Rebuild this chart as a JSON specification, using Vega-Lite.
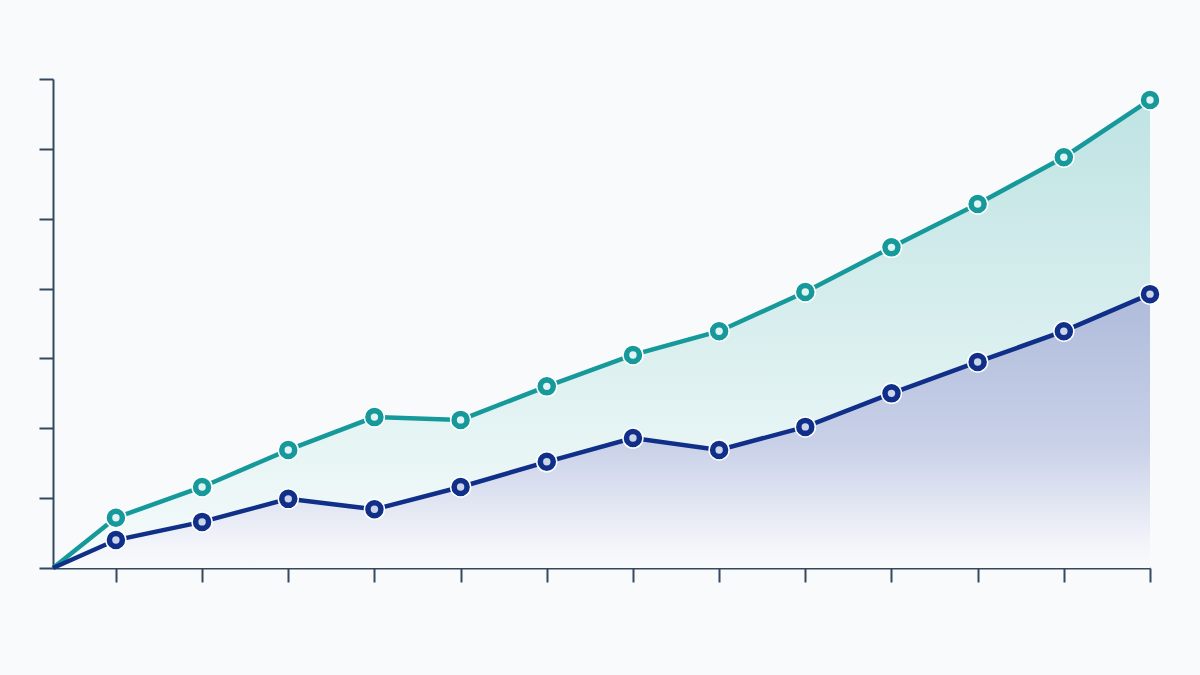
{
  "$schema": "https://vega.github.io/schema/vega-lite/v6.json",
  "description": "Two rising series with gradient areas, no labels",
  "autosize": {"type": "none"},
  "width": 1097,
  "height": 489,
  "padding": {"left": 53, "top": 79, "right": 50, "bottom": 107},
  "background": "#f9fafc",
  "data": {
    "values": [
      {"step": 0.27, "value": 0, "series": "A"},
      {"step": 1, "value": 0.72, "series": "A"},
      {"step": 2, "value": 1.16, "series": "A"},
      {"step": 3, "value": 1.69, "series": "A"},
      {"step": 4, "value": 2.16, "series": "A"},
      {"step": 5, "value": 2.12, "series": "A"},
      {"step": 6, "value": 2.6, "series": "A"},
      {"step": 7, "value": 3.05, "series": "A"},
      {"step": 8, "value": 3.39, "series": "A"},
      {"step": 9, "value": 3.95, "series": "A"},
      {"step": 10, "value": 4.59, "series": "A"},
      {"step": 11, "value": 5.21, "series": "A"},
      {"step": 12, "value": 5.88, "series": "A"},
      {"step": 13, "value": 6.7, "series": "A"},
      {"step": 0.27, "value": 0, "series": "B"},
      {"step": 1, "value": 0.4, "series": "B"},
      {"step": 2, "value": 0.66, "series": "B"},
      {"step": 3, "value": 0.99, "series": "B"},
      {"step": 4, "value": 0.84, "series": "B"},
      {"step": 5, "value": 1.16, "series": "B"},
      {"step": 6, "value": 1.52, "series": "B"},
      {"step": 7, "value": 1.86, "series": "B"},
      {"step": 8, "value": 1.69, "series": "B"},
      {"step": 9, "value": 2.02, "series": "B"},
      {"step": 10, "value": 2.5, "series": "B"},
      {"step": 11, "value": 2.95, "series": "B"},
      {"step": 12, "value": 3.39, "series": "B"},
      {"step": 13, "value": 3.92, "series": "B"}
    ]
  },
  "encoding": {
    "x": {
      "field": "step",
      "type": "quantitative",
      "scale": {"domain": [0.27, 13], "nice": false, "zero": false},
      "axis": {"values": [1, 2, 3, 4, 5, 6, 7, 8, 9, 10, 11, 12, 13], "labels": false, "title": null, "grid": false}
    },
    "y": {
      "field": "value",
      "type": "quantitative",
      "scale": {"domain": [0, 7], "nice": false},
      "axis": {"values": [0, 1, 2, 3, 4, 5, 6, 7], "labels": false, "title": null, "grid": false}
    }
  },
  "layer": [
    {
      "transform": [{"filter": "datum.series == 'A'"}],
      "mark": {
        "type": "area",
        "color": {
          "gradient": "linear", "x1": 0, "y1": 0, "x2": 0, "y2": 1,
          "stops": [
            {"offset": 0, "color": "#bfe3e3"},
            {"offset": 0.6, "color": "#dff1f1"},
            {"offset": 1, "color": "#f6fbfb"}
          ]
        }
      }
    },
    {
      "transform": [{"filter": "datum.series == 'B'"}],
      "mark": {
        "type": "area",
        "color": {
          "gradient": "linear", "x1": 0, "y1": 0, "x2": 0, "y2": 1,
          "stops": [
            {"offset": 0, "color": "#aebbda"},
            {"offset": 0.55, "color": "#c9d1e8"},
            {"offset": 0.92, "color": "#f3f5fa"},
            {"offset": 1, "color": "#f9fafc"}
          ]
        }
      }
    },
    {
      "mark": {"type": "line", "strokeWidth": 4.5},
      "encoding": {
        "color": {"field": "series", "type": "nominal", "scale": {"domain": ["A", "B"], "range": ["#16999a", "#102f88"]}, "legend": null}
      }
    },
    {
      "transform": [{"filter": "datum.step >= 1"}],
      "mark": {"type": "circle", "size": 400, "opacity": 1, "stroke": "white", "strokeWidth": 1.5},
      "encoding": {
        "color": {"field": "series", "type": "nominal", "scale": {"domain": ["A", "B"], "range": ["#16999a", "#102f88"]}, "legend": null}
      }
    },
    {
      "transform": [{"filter": "datum.step >= 1"}],
      "mark": {"type": "circle", "size": 55, "opacity": 1},
      "encoding": {
        "color": {"field": "series", "type": "nominal", "scale": {"domain": ["A", "B"], "range": ["#e2f3f3", "#ccd4ea"]}, "legend": null}
      }
    }
  ],
  "resolve": {"scale": {"color": "independent"}},
  "config": {
    "view": {"stroke": null},
    "axis": {"domainColor": "#34495e", "domainWidth": 2, "tickColor": "#34495e", "tickWidth": 2, "tickSize": 14}
  }
}
